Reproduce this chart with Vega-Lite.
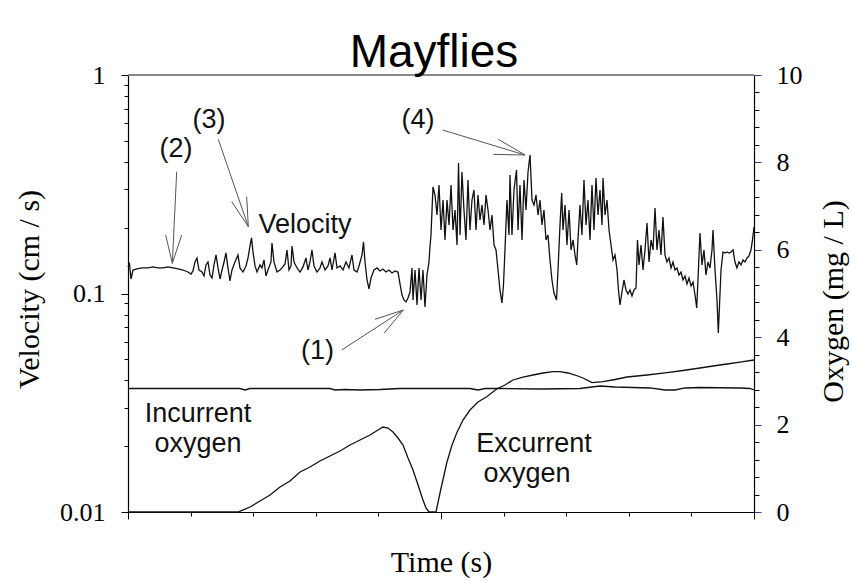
{
  "$schema": "https://vega.github.io/schema/vega-lite/v6.json",
  "width": 626,
  "height": 437,
  "autosize": {"type": "none"},
  "padding": {"left": 128, "top": 75, "right": 98, "bottom": 69},
  "background": "white",
  "title": {"text": "Mayflies", "font": "Liberation Sans", "fontSize": 46, "fontWeight": "normal", "color": "black", "anchor": "middle", "dx": -7, "dy": 59, "baseline": "alphabetic", "offset": 8},
  "config": {"view": {"stroke": null}, "axis": {"grid": false}},
  "datasets": {
    "vel": [
      {"t":0,"v":0.1323},{"t":0.024,"v":0.1365},{"t":0.048,"v":0.1165},{"t":0.08,"v":0.1281},{"t":0.144,"v":0.1295},{"t":0.224,"v":0.1309},{"t":0.319,"v":0.1309},{"t":0.399,"v":0.1323},{"t":0.479,"v":0.1309},{"t":0.559,"v":0.1309},{"t":0.639,"v":0.1323},{"t":0.719,"v":0.1309},{"t":0.799,"v":0.1295},{"t":0.879,"v":0.1281},{"t":0.958,"v":0.1254},{"t":1.006,"v":0.1228},{"t":1.038,"v":0.1268},
      {"t":1.07,"v":0.1394},{"t":1.102,"v":0.1454},{"t":1.134,"v":0.1281},{"t":1.182,"v":0.1254},{"t":1.214,"v":0.1202},{"t":1.246,"v":0.1351},{"t":1.278,"v":0.1394},{"t":1.31,"v":0.1215},{"t":1.342,"v":0.1177},{"t":1.374,"v":0.1351},{"t":1.406,"v":0.1501},{"t":1.438,"v":0.1309},{"t":1.47,"v":0.1165},{"t":1.502,"v":0.1281},{"t":1.534,"v":0.1394},{"t":1.565,"v":0.1533},{"t":1.597,"v":0.1309},{"t":1.629,"v":0.1141},{"t":1.661,"v":0.1281},{"t":1.709,"v":0.1394},{"t":1.757,"v":0.1501},{"t":1.789,"v":0.1309},{"t":1.837,"v":0.1254},{"t":1.885,"v":0.1337},{"t":1.917,"v":0.1454},{"t":1.949,"v":0.165},{"t":1.973,"v":0.1796},{"t":1.997,"v":0.1549},{"t":2.029,"v":0.1337},{"t":2.061,"v":0.1254},{"t":2.109,"v":0.1351},{"t":2.141,"v":0.1309},{"t":2.173,"v":0.1424},{"t":2.204,"v":0.1202},{"t":2.236,"v":0.1281},{"t":2.284,"v":0.1394},{"t":2.3,"v":0.1703},{"t":2.332,"v":0.1394},{"t":2.38,"v":0.1254},{"t":2.428,"v":0.1281},{"t":2.46,"v":0.1309},{"t":2.508,"v":0.1365},{"t":2.54,"v":0.1582},{"t":2.572,"v":0.1281},{"t":2.604,"v":0.1337},{"t":2.62,"v":0.165},{"t":2.652,"v":0.1394},{"t":2.7,"v":0.1309},{"t":2.748,"v":0.1254},{"t":2.796,"v":0.1323},{"t":2.843,"v":0.1454},{"t":2.875,"v":0.1281},{"t":2.907,"v":0.1394},{"t":2.939,"v":0.1582},{"t":2.971,"v":0.1337},{"t":3.019,"v":0.1254},{"t":3.067,"v":0.1309},{"t":3.099,"v":0.1394},{"t":3.147,"v":0.1281},{"t":3.195,"v":0.1337},{"t":3.227,"v":0.1454},{"t":3.259,"v":0.1281},{"t":3.307,"v":0.1533},{"t":3.339,"v":0.1309},{"t":3.387,"v":0.1337},{"t":3.435,"v":0.1281},{"t":3.482,"v":0.1394},{"t":3.53,"v":0.1309},{"t":3.578,"v":0.1501},{"t":3.61,"v":0.1281},{"t":3.658,"v":0.1254},{"t":3.69,"v":0.1337},{"t":3.738,"v":0.1501},{"t":3.762,"v":0.1721},{"t":3.786,"v":0.1394},{"t":3.818,"v":0.1153},{"t":3.85,"v":0.1049},{"t":3.882,"v":0.1177},{"t":3.93,"v":0.1281},{"t":3.978,"v":0.1309},{"t":4.026,"v":0.1268},{"t":4.073,"v":0.1295},{"t":4.121,"v":0.1254},{"t":4.169,"v":0.1281},{"t":4.217,"v":0.1241},{"t":4.265,"v":0.1268},{"t":4.313,"v":0.1254},
      {"t":4.345,"v":0.1106},{"t":4.377,"v":0.09843},{"t":4.409,"v":0.09338},{"t":4.441,"v":0.09143},{"t":4.473,"v":0.09537},{"t":4.505,"v":0.1016},{"t":4.537,"v":0.1309},{"t":4.553,"v":0.09338},{"t":4.585,"v":0.1281},{"t":4.617,"v":0.08859},{"t":4.649,"v":0.1309},{"t":4.681,"v":0.09338},{"t":4.712,"v":0.1281},{"t":4.744,"v":0.08674},{"t":4.776,"v":0.1215},{"t":4.808,"v":0.1394},{"t":4.824,"v":0.1632},{"t":4.84,"v":0.1853},{"t":4.872,"v":0.3072},
      {"t":4.904,"v":0.2824},{"t":4.936,"v":0.2287},{"t":4.968,"v":0.3138},{"t":5.0,"v":0.1953},{"t":5.032,"v":0.2679},{"t":5.064,"v":0.1758},{"t":5.096,"v":0.2679},{"t":5.128,"v":0.2059},{"t":5.16,"v":0.3138},{"t":5.192,"v":0.1953},{"t":5.224,"v":0.2411},{"t":5.256,"v":0.1667},{"t":5.28,"v":0.3957},{"t":5.304,"v":0.1853},{"t":5.335,"v":0.3598},{"t":5.367,"v":0.2411},{"t":5.399,"v":0.1758},{"t":5.431,"v":0.3307},{"t":5.463,"v":0.1953},{"t":5.495,"v":0.2679},{"t":5.527,"v":0.2977},{"t":5.559,"v":0.1953},{"t":5.591,"v":0.2824},{"t":5.623,"v":0.217},{"t":5.655,"v":0.2541},{"t":5.687,"v":0.2059},{"t":5.719,"v":0.2824},{"t":5.751,"v":0.2411},{"t":5.783,"v":0.1953},{"t":5.815,"v":0.2287},{"t":5.847,"v":0.1667},{"t":5.879,"v":0.1582},{"t":5.911,"v":0.1281},{"t":5.942,"v":0.1038},{"t":5.974,"v":0.09047},{"t":5.998,"v":0.1094},{"t":6.022,"v":0.1582},{"t":6.054,"v":0.2679},{"t":6.086,"v":0.1853},{"t":6.102,"v":0.3486},{"t":6.134,"v":0.1853},{"t":6.166,"v":0.2977},{"t":6.206,"v":0.3675},{"t":6.23,"v":0.1953},{"t":6.262,"v":0.3138},{"t":6.294,"v":0.1758},{"t":6.326,"v":0.3307},{"t":6.358,"v":0.2411},{"t":6.39,"v":0.3598},{"t":6.422,"v":0.4304},{"t":6.454,"v":0.2679},{"t":6.486,"v":0.2541},{"t":6.518,"v":0.2824},{"t":6.55,"v":0.2287},{"t":6.581,"v":0.2679},{"t":6.613,"v":0.2059},{"t":6.645,"v":0.2411},{"t":6.677,"v":0.1758},{"t":6.709,"v":0.1853},{"t":6.741,"v":0.1424},{"t":6.773,"v":0.1153},{"t":6.805,"v":0.1005},{"t":6.845,"v":0.09338},{"t":6.869,"v":0.1281},{"t":6.901,"v":0.2059},{"t":6.928,"v":0.2884},{"t":6.949,"v":0.1953},{"t":6.981,"v":0.2541},{"t":7.013,"v":0.1667},{"t":7.045,"v":0.2411},{"t":7.077,"v":0.1582},{"t":7.109,"v":0.1758},{"t":7.141,"v":0.1501},{"t":7.168,"v":0.1351},{"t":7.188,"v":0.1758},{"t":7.22,"v":0.2541},
      {"t":7.252,"v":0.1853},{"t":7.284,"v":0.3307},{"t":7.316,"v":0.2059},{"t":7.348,"v":0.2679},{"t":7.38,"v":0.1758},{"t":7.412,"v":0.3138},{"t":7.444,"v":0.1953},{"t":7.476,"v":0.3377},{"t":7.508,"v":0.2287},{"t":7.54,"v":0.2977},{"t":7.572,"v":0.2059},{"t":7.588,"v":0.3377},{"t":7.62,"v":0.2287},{"t":7.652,"v":0.2679},{"t":7.684,"v":0.1953},{"t":7.716,"v":0.1667},{"t":7.748,"v":0.1424},{"t":7.78,"v":0.1501},{"t":7.812,"v":0.1281},{"t":7.835,"v":0.1038},{"t":7.859,"v":0.08859},{"t":7.891,"v":0.1016},{"t":7.923,"v":0.1153},{"t":7.955,"v":0.1038},{"t":7.987,"v":0.09947},{"t":8.019,"v":0.1038},{"t":8.051,"v":0.0974},{"t":8.083,"v":0.1038},{"t":8.115,"v":0.106},{"t":8.139,"v":0.1758},{"t":8.163,"v":0.1351},{"t":8.195,"v":0.1667},{"t":8.227,"v":0.1281},{"t":8.259,"v":0.1582},{"t":8.291,"v":0.2103},{"t":8.323,"v":0.1394},{"t":8.355,"v":0.1758},{"t":8.387,"v":0.1582},{"t":8.419,"v":0.2462},{"t":8.45,"v":0.1582},{"t":8.482,"v":0.1953},{"t":8.514,"v":0.1501},{"t":8.546,"v":0.2239},{"t":8.578,"v":0.1501},{"t":8.61,"v":0.1394},{"t":8.642,"v":0.1454},{"t":8.674,"v":0.1309},{"t":8.706,"v":0.1394},{"t":8.738,"v":0.1281},{"t":8.77,"v":0.1309},{"t":8.802,"v":0.1215},{"t":8.834,"v":0.1254},{"t":8.866,"v":0.1153},{"t":8.898,"v":0.1202},{"t":8.93,"v":0.1106},{"t":8.962,"v":0.1177},{"t":8.994,"v":0.1083},{"t":9.026,"v":0.1129},{"t":9.058,"v":0.09843},{"t":9.085,"v":0.08583},{"t":9.105,"v":0.1153},{"t":9.137,"v":0.1893},{"t":9.169,"v":0.1351},{"t":9.201,"v":0.1582},{"t":9.233,"v":0.1215},{"t":9.265,"v":0.1394},{"t":9.297,"v":0.1309},{"t":9.329,"v":0.1582},{"t":9.345,"v":0.1953},{"t":9.377,"v":0.1281},{"t":9.409,"v":0.09338},{"t":9.43,"v":0.06596},{"t":9.449,"v":0.08859},{"t":9.473,"v":0.1281},{"t":9.505,"v":0.1549},{"t":9.537,"v":0.1533},{"t":9.569,"v":0.1549},{"t":9.601,"v":0.1533},{"t":9.633,"v":0.1549},{"t":9.665,"v":0.1582},{"t":9.696,"v":0.1394},{"t":9.728,"v":0.1309},{"t":9.76,"v":0.1394},{"t":9.792,"v":0.1351},{"t":9.824,"v":0.1424},{"t":9.856,"v":0.1394},{"t":9.888,"v":0.1454},{"t":9.92,"v":0.1485},{"t":9.952,"v":0.1582},{"t":9.976,"v":0.1758},{"t":10,"v":0.2016}
    ],
    "inc": [
      {"t":0,"o":2.826},{"t":1.15,"o":2.826},{"t":1.789,"o":2.826},{"t":1.869,"o":2.792},{"t":1.949,"o":2.826},{"t":2.748,"o":2.826},{"t":3.227,"o":2.826},{"t":3.307,"o":2.792},{"t":3.466,"o":2.803},{"t":3.706,"o":2.792},{"t":4.026,"o":2.803},{"t":4.345,"o":2.826},{"t":5.463,"o":2.826},{"t":5.591,"o":2.792},{"t":5.703,"o":2.826},{"t":5.942,"o":2.826},{"t":6.581,"o":2.815},{"t":7.22,"o":2.826},{"t":7.54,"o":2.883},{"t":7.78,"o":2.86},{"t":8.339,"o":2.838},{"t":8.578,"o":2.792},{"t":8.738,"o":2.792},{"t":8.898,"o":2.838},{"t":9.137,"o":2.849},{"t":9.776,"o":2.838},{"t":9.936,"o":2.826},{"t":10,"o":2.792}
    ],
    "exc": [
      {"t":0,"o":0},{"t":1.757,"o":0},{"t":1.949,"o":0.114},{"t":2.109,"o":0.252},{"t":2.268,"o":0.389},{"t":2.428,"o":0.572},{"t":2.588,"o":0.709},{"t":2.748,"o":0.915},{"t":2.907,"o":1.03},{"t":3.067,"o":1.167},{"t":3.227,"o":1.281},{"t":3.387,"o":1.396},{"t":3.546,"o":1.533},{"t":3.706,"o":1.648},{"t":3.866,"o":1.762},{"t":3.994,"o":1.876},{"t":4.073,"o":1.945},{"t":4.153,"o":1.922},{"t":4.233,"o":1.831},{"t":4.313,"o":1.693},{"t":4.393,"o":1.533},{"t":4.473,"o":1.236},{"t":4.553,"o":0.961},{"t":4.633,"o":0.618},{"t":4.712,"o":0.275},{"t":4.76,"o":0.092},{"t":4.808,"o":0},{"t":4.92,"o":0},{"t":4.984,"o":0.435},{"t":5.091,"o":1.121},{"t":5.176,"o":1.533},{"t":5.251,"o":1.808},{"t":5.351,"o":2.105},{"t":5.463,"o":2.334},{"t":5.591,"o":2.517},{"t":5.73,"o":2.638},{"t":5.89,"o":2.815},{"t":6.022,"o":2.906},{"t":6.15,"o":3.021},{"t":6.31,"o":3.089},{"t":6.47,"o":3.135},{"t":6.629,"o":3.181},{"t":6.789,"o":3.211},{"t":6.901,"o":3.211},{"t":7.029,"o":3.181},{"t":7.141,"o":3.135},{"t":7.268,"o":3.066},{"t":7.412,"o":2.959},{"t":7.588,"o":2.982},{"t":7.78,"o":3.032},{"t":7.971,"o":3.089},{"t":8.291,"o":3.135},{"t":8.61,"o":3.188},{"t":8.866,"o":3.238},{"t":9.137,"o":3.295},{"t":9.345,"o":3.341},{"t":9.569,"o":3.387},{"t":9.776,"o":3.432},{"t":10,"o":3.478}
    ],
    "arrows": [
      {"t":0.778,"o":7.787,"t2":0.708,"o2":5.691},{"t":0.708,"o":5.691,"t2":0.602,"o2":6.339},{"t":0.708,"o":5.691,"t2":0.858,"o2":6.339},
      {"t":1.442,"o":8.529,"t2":1.922,"o2":6.529},{"t":1.922,"o":6.529,"t2":1.657,"o2":7.101},{"t":1.922,"o":6.529,"t2":1.896,"o2":7.215},
      {"t":5.027,"o":8.741,"t2":6.342,"o2":8.169},{"t":6.342,"o":8.169,"t2":5.915,"o2":8.529},{"t":6.342,"o":8.169,"t2":5.835,"o2":8.185},
      {"t":3.414,"o":3.707,"t2":4.398,"o2":4.622},{"t":4.398,"o":4.622,"t2":3.946,"o2":4.41},{"t":4.398,"o":4.622,"t2":4.089,"o2":4.089}
    ],
    "notes": [
      {"t":0.767,"o":8.124,"label":"(2)"},
      {"t":1.294,"o":8.78,"label":"(3)"},
      {"t":4.633,"o":8.787,"label":"(4)"},
      {"t":3.027,"o":3.501,"label":"(1)"},
      {"t":2.827,"o":6.384,"label":"Velocity"},
      {"t":1.118,"o":2.066,"label":"Incurrent"},
      {"t":1.118,"o":1.373,"label":"oxygen"},
      {"t":6.486,"o":1.38,"label":"Excurrent"},
      {"t":6.374,"o":0.693,"label":"oxygen"}
    ],
    "frame": [{"t0":0,"t1":10,"top":10}]
  },
  "encoding": {
    "x": {"field": "t", "type": "quantitative",
      "scale": {"domain": [0, 10], "nice": false, "zero": false},
      "axis": {"values": [0,1,2,3,4,5,6,7,8,9,10], "labels": false, "domainColor": "black", "domainWidth": 1.2,
        "tickColor": "black", "tickWidth": 1,
        "tickSize": {"condition": {"test": "datum.value == 0 || datum.value == 5 || datum.value == 10", "value": 7}, "value": 4},
        "title": "Time (s)", "titleFont": "Liberation Serif", "titleFontSize": 30, "titleFontWeight": "normal", "titleColor": "black",
        "titleX": 313, "titleY": 59, "titleAlign": "center", "titleBaseline": "alphabetic"}}
  },
  "layer": [
    {
      "data": {"name": "vel"},
      "mark": {"type": "line", "color": "#111111", "strokeWidth": 1.3},
      "encoding": {
        "y": {"field": "v", "type": "quantitative",
          "scale": {"type": "log", "domain": [0.01, 1], "nice": false},
          "axis": {"orient": "left",
            "values": [0.01,0.02,0.03,0.04,0.05,0.06,0.07,0.08,0.09,0.1,0.2,0.3,0.4,0.5,0.6,0.7,0.8,0.9,1],
            "labelExpr": "datum.value == 1 ? '1' : datum.value == 0.1 ? '0.1' : datum.value == 0.01 ? '0.01' : ''",
            "labelFont": "Liberation Serif", "labelFontSize": 26, "labelColor": "black", "labelPadding": 16,
            "domainColor": "black", "domainWidth": 1.2, "tickColor": "black", "tickWidth": 1,
            "tickSize": {"condition": {"test": "datum.value == 1 || datum.value == 0.1 || datum.value == 0.01", "value": 7}, "value": 4},
            "title": "Velocity (cm / s)", "titleFont": "Liberation Serif", "titleFontSize": 30, "titleFontWeight": "normal", "titleColor": "black",
            "titleX": -99, "titleY": 214, "titleAngle": 270, "titleAlign": "center", "titleBaseline": "middle"}}
      }
    },
    {
      "encoding": {
        "y": {"field": "o", "type": "quantitative",
          "scale": {"domain": [0, 10], "nice": false, "zero": false},
          "axis": {"orient": "right",
            "values": [0,0.4,0.8,1.2,1.6,2,2.4,2.8,3.2,3.6,4,4.4,4.8,5.2,5.6,6,6.4,6.8,7.2,7.6,8,8.4,8.8,9.2,9.6,10],
            "labelExpr": "datum.value % 2 == 0 ? format(datum.value, 'd') : ''",
            "labelFont": "Liberation Serif", "labelFontSize": 26, "labelColor": "black", "labelPadding": 15,
            "domainColor": "black", "domainWidth": 1.2, "tickWidth": 1,
            "tickColor": {"condition": {"test": "datum.value % 2 == 0", "value": "#3a3a9c"}, "value": "black"},
            "tickSize": {"condition": {"test": "datum.value % 2 == 0", "value": 7}, "value": 5},
            "title": "Oxygen (mg / L)", "titleFont": "Liberation Serif", "titleFontSize": 30, "titleFontWeight": "normal", "titleColor": "black",
            "titleX": 79, "titleY": 226, "titleAngle": 270, "titleAlign": "center", "titleBaseline": "middle"}}
      },
      "layer": [
        {"data": {"name": "inc"}, "mark": {"type": "line", "color": "#111111", "strokeWidth": 1.3}},
        {"data": {"name": "exc"}, "mark": {"type": "line", "color": "#111111", "strokeWidth": 1.3}},
        {"data": {"name": "arrows"}, "mark": {"type": "rule", "color": "#555555", "strokeWidth": 1},
          "encoding": {"x2": {"field": "t2"}, "y2": {"field": "o2"}}},
        {"data": {"name": "notes"}, "mark": {"type": "text", "font": "Liberation Sans", "fontSize": 27, "align": "center", "baseline": "alphabetic", "color": "#111111"},
          "encoding": {"text": {"field": "label", "type": "nominal"}}},
        {"data": {"name": "frame"}, "mark": {"type": "rule", "color": "#888888", "strokeWidth": 2},
          "encoding": {"x": {"field": "t0", "type": "quantitative"}, "x2": {"field": "t1"}, "y": {"field": "top", "type": "quantitative"}}}
      ]
    }
  ],
  "resolve": {"scale": {"y": "independent"}, "axis": {"y": "independent"}}
}
